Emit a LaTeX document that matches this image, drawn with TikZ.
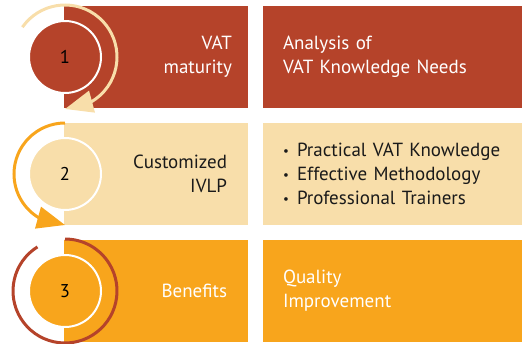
\documentclass[tikz,border=0pt]{standalone}
\usepackage{fontspec}
\setmainfont{PT Sans}
\usetikzlibrary{arrows.meta,bending}
\definecolor{rust}{HTML}{B5432A}
\definecolor{sand}{HTML}{F8DEAA}
\definecolor{amber}{HTML}{F8A51C}
\definecolor{ink}{HTML}{1A1A1A}
\newcommand{\bul}{\makebox[14pt][l]{\fontsize{13}{13}\selectfont\raisebox{1.5pt}{•}}}

\tikzset{
  stepname/.style={rectangle, minimum height=102pt, text width=152pt,
    inner xsep=16pt, inner ysep=0pt, align=right, font=\fontsize{19}{24}\selectfont},
  stepinfo/.style={rectangle, minimum height=102pt, text width=219pt,
    inner xsep=20pt, inner ysep=0pt, align=left, font=\fontsize{19}{24}\selectfont},
  stepnum/.style={circle, draw=white, line width=2pt, minimum size=72pt,
    inner sep=0pt, font=\fontsize{18.5}{18.5}\selectfont, text=black},
  ring/.style={line width=3pt},
  ringtip/.style={-{Triangle[length=28pt,width=22pt,flex]}},
}

\begin{document}
\begin{tikzpicture}[x=1pt,y=1pt]
  \useasboundingbox (0,0) rectangle (529,343);
  % Boxes
  \node[stepname, fill=rust, text=white] (name1) at (156,286) {VAT\\maturity};
  \node[stepinfo, fill=rust, text=white] (info1) at (392.5,286) {Analysis of\\VAT Knowledge Needs};
  \node[stepname, fill=sand, text=ink, text width=142pt, inner xsep=21pt] (name2) at (156,169) {Customized\\IVLP};
  \node[stepinfo, fill=sand, text=ink] (info2) at (392.5,169)
    {\bul Practical VAT Knowledge\\\bul Effective Methodology\\\bul Professional Trainers};
  \node[stepname, fill=amber, text=white, text width=142pt, inner xsep=21pt] (name3) at (156,52) {Benefits};
  \node[stepinfo, fill=amber, text=white] (info3) at (392.5,52) {Quality\\Improvement};
  % Numbers
  \node[stepnum, fill=rust] (num1) at (65,286) {1};
  \node[stepnum, fill=sand] (num2) at (65,169) {2};
  \node[stepnum, fill=amber] (num3) at (65,52) {3};
  % Rings
  \draw[ring, sand, ringtip] (num1.center) ++(145:52) arc[start angle=145, end angle=-90, radius=52];
  \draw[ring, amber, ringtip] (num2.center) ++(90:51) arc[start angle=90, end angle=270, radius=51];
  \draw[ring, rust] (num3.center) ++(122:52) arc[start angle=122, end angle=450, radius=52];
\end{tikzpicture}
\end{document}
